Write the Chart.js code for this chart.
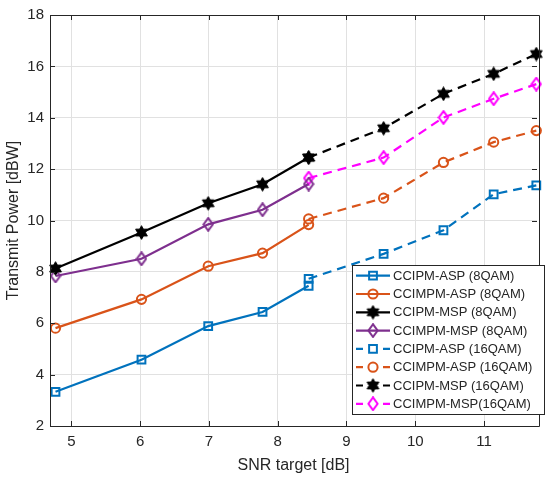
<!DOCTYPE html>
<html>
<head>
<meta charset="utf-8">
<script src="https://cdn.jsdelivr.net/npm/chart.js@4.4.0/dist/chart.umd.min.js"></script>
<style>
  html, body { margin: 0; padding: 0; background: #fff; }
  #wrap { width: 545px; height: 481px; }
</style>
</head>
<body>
<div id="wrap"><canvas id="chart" width="545" height="481"></canvas></div>
<script>
// SNR targets [dB]
const snr8 = [4.77, 6.02, 6.99, 7.78, 8.45];
const snr16 = [8.45, 9.54, 10.41, 11.14, 11.76];

// transmit power [dBW]
const ipmAsp8 = [3.33, 4.58, 5.89, 6.44, 7.46];
const impmAsp8 = [5.81, 6.93, 8.22, 8.73, 9.84];
const ipmMsp8 = [8.13, 9.53, 10.67, 11.41, 12.45];
const impmMsp8 = [7.84, 8.51, 9.85, 10.42, 11.42];
const ipmAsp16 = [7.73, 8.70, 9.62, 11.02, 11.37];
const impmAsp16 = [10.06, 10.87, 12.26, 13.05, 13.50];
const ipmMsp16 = [12.45, 13.59, 14.93, 15.71, 16.48];
const impmMsp16 = [11.65, 12.45, 14.01, 14.74, 15.31];

const xTicks = [5, 6, 7, 8, 9, 10, 11];
const yTicks = [2, 4, 6, 8, 10, 12, 14, 16, 18];

const FONT = '"Liberation Sans", Arial, Helvetica, sans-serif';
const TXT = '#262626';

// six pointed star like matlab 'h'
function hexagram(color) {
    const c = document.createElement('canvas');
    c.width = 15; c.height = 15;
    const g = c.getContext('2d');
    const R = 6.8, r = R / Math.sqrt(3);
    g.beginPath();
    for (let i = 0; i < 12; i++) {
        const a = -Math.PI / 2 + i * Math.PI / 6;
        const rr = i % 2 === 0 ? R : r;
        g.lineTo(7.5 + rr * Math.cos(a), 7.5 + rr * Math.sin(a));
    }
    g.closePath();
    g.fillStyle = color;
    g.fill();
    g.lineWidth = 1;
    g.strokeStyle = color;
    g.stroke();
    return c;
}

// matlab diamond is a bit taller than wide
function diamond(color) {
    const c = document.createElement('canvas');
    c.width = 12; c.height = 15;
    const g = c.getContext('2d');
    g.beginPath();
    g.moveTo(6, 1.2);
    g.lineTo(10.6, 7.5);
    g.lineTo(6, 13.8);
    g.lineTo(1.4, 7.5);
    g.closePath();
    g.lineWidth = 2;
    g.strokeStyle = color;
    g.stroke();
    return c;
}

const star = hexagram('#000');

function makeSet(label, xs, ys, color, style, radius, dashed) {
    return {
        label: label,
        data: xs.map(function (x, i) { return { x: x, y: ys[i] }; }),
        borderColor: color,
        backgroundColor: 'rgba(0,0,0,0)',
        borderWidth: 2.2,
        borderDash: dashed ? [9, 6] : [],
        pointStyle: style,
        pointRadius: radius,
        pointHoverRadius: radius,
        pointBorderWidth: 2,
        pointBorderColor: color,
        pointBackgroundColor: 'rgba(0,0,0,0)',
        fill: false,
        tension: 0,
        clip: 10
    };
}

const datasets = [
    makeSet('CCIPM-ASP (8QAM)', snr8, ipmAsp8, '#0072BD', 'rect', 5.5, false),
    makeSet('CCIMPM-ASP (8QAM)', snr8, impmAsp8, '#D95319', 'circle', 4.6, false),
    makeSet('CCIPM-MSP (8QAM)', snr8, ipmMsp8, '#000000', star, 6, false),
    makeSet('CCIMPM-MSP (8QAM)', snr8, impmMsp8, '#7E2F8E', diamond('#7E2F8E'), 6, false),
    makeSet('CCIPM-ASP (16QAM)', snr16, ipmAsp16, '#0072BD', 'rect', 5.5, true),
    makeSet('CCIMPM-ASP (16QAM)', snr16, impmAsp16, '#D95319', 'circle', 4.6, true),
    makeSet('CCIPM-MSP (16QAM)', snr16, ipmMsp16, '#000000', star, 6, true),
    makeSet('CCIMPM-MSP(16QAM)', snr16, impmMsp16, '#FF00FF', diamond('#FF00FF'), 6, true)
];

// box + inward ticks, matlab style
const framePlugin = {
    id: 'frame',
    afterDatasetsDraw: function (chart) {
        const ctx = chart.ctx, a = chart.chartArea;
        const xs = chart.scales.x, ys = chart.scales.y;
        ctx.save();
        ctx.strokeStyle = TXT;
        ctx.lineWidth = 1;
        ctx.beginPath();
        xTicks.forEach(function (v) {
            const px = Math.round(xs.getPixelForValue(v)) + 0.5;
            ctx.moveTo(px, a.bottom); ctx.lineTo(px, a.bottom - 5);
            ctx.moveTo(px, a.top); ctx.lineTo(px, a.top + 5);
        });
        yTicks.forEach(function (v) {
            const py = Math.round(ys.getPixelForValue(v)) + 0.5;
            ctx.moveTo(a.left, py); ctx.lineTo(a.left + 5, py);
            ctx.moveTo(a.right, py); ctx.lineTo(a.right - 5, py);
        });
        ctx.stroke();
        ctx.beginPath();
        ctx.rect(Math.round(a.left) + 0.5, Math.round(a.top) + 0.5,
            Math.round(a.right - a.left) + 2, Math.round(a.bottom - a.top));
        ctx.stroke();
        ctx.restore();
    }
};

// legend with line + marker samples
const legendPlugin = {
    id: 'mlegend',
    afterDraw: function (chart) {
        const ctx = chart.ctx;
        ctx.save();
        ctx.font = '13px ' + FONT;
        let maxW = 0;
        datasets.forEach(function (d) { maxW = Math.max(maxW, ctx.measureText(d.label).width); });
        const rowH = 18.3;
        const boxW = Math.round(41 + maxW + 12);
        const boxH = Math.round(rowH * 7 + 21);
        const right = 544;
        const bottom = 414;
        const left = right - boxW, top = bottom - boxH;
        ctx.fillStyle = '#fff';
        ctx.fillRect(left, top, boxW, boxH);
        ctx.strokeStyle = TXT;
        ctx.lineWidth = 1;
        ctx.strokeRect(left + 0.5, top + 0.5, boxW, boxH);
        datasets.forEach(function (d, i) {
            const cy = top + 10.7 + i * rowH;
            const x0 = left + 4, x1 = left + 38, cx = (x0 + x1) / 2;
            ctx.strokeStyle = d.borderColor;
            ctx.lineWidth = 2.2;
            ctx.beginPath();
            if (d.borderDash.length) {
                ctx.moveTo(x0, cy); ctx.lineTo(x0 + 7, cy);
                ctx.moveTo(x1 - 7, cy); ctx.lineTo(x1, cy);
            } else {
                ctx.moveTo(x0, cy); ctx.lineTo(x1, cy);
            }
            ctx.stroke();
            ctx.lineWidth = d.pointBorderWidth;
            ctx.fillStyle = 'rgba(0,0,0,0)';
            Chart.helpers.drawPoint(ctx, {
                pointStyle: d.pointStyle, radius: d.pointRadius,
                borderWidth: d.pointBorderWidth, rotation: 0
            }, cx, cy);
            ctx.fillStyle = TXT;
            ctx.textBaseline = 'middle';
            ctx.textAlign = 'left';
            ctx.fillText(d.label, left + 41, cy + 0.5);
        });
        ctx.restore();
    }
};

const ctx = document.getElementById('chart');
new Chart(ctx, {
    type: 'line',
    data: { datasets: datasets },
    options: {
        responsive: false,
        animation: false,
        events: [],
        layout: { padding: { top: 5, right: 0, left: 0, bottom: 0 } },
        plugins: {
            legend: { display: false },
            tooltip: { enabled: false }
        },
        scales: {
            x: {
                type: 'linear',
                min: 4.69,
                max: 11.77,
                afterBuildTicks: function (s) { s.ticks = xTicks.map(function (v) { return { value: v }; }); },
                afterFit: function (s) { s.height = 55; },
                grid: { color: '#e1e1e1', drawTicks: false },
                border: { display: false },
                ticks: { color: TXT, font: { family: FONT, size: 15 }, padding: 7, maxRotation: 0 },
                title: { display: true, text: 'SNR target [dB]', color: TXT, font: { family: FONT, size: 16 }, padding: { top: 0, bottom: 6 } }
            },
            y: {
                min: 2,
                max: 18,
                afterBuildTicks: function (s) { s.ticks = yTicks.map(function (v) { return { value: v }; }); },
                afterFit: function (s) { s.width = 50; },
                grid: { color: '#e1e1e1', drawTicks: false },
                border: { display: false },
                ticks: { color: TXT, font: { family: FONT, size: 15 }, padding: 6 },
                title: { display: true, text: 'Transmit Power [dBW]', color: TXT, font: { family: FONT, size: 16 }, padding: { top: 4, bottom: 0 } }
            }
        }
    },
    plugins: [framePlugin, legendPlugin]
});
</script>
</body>
</html>
